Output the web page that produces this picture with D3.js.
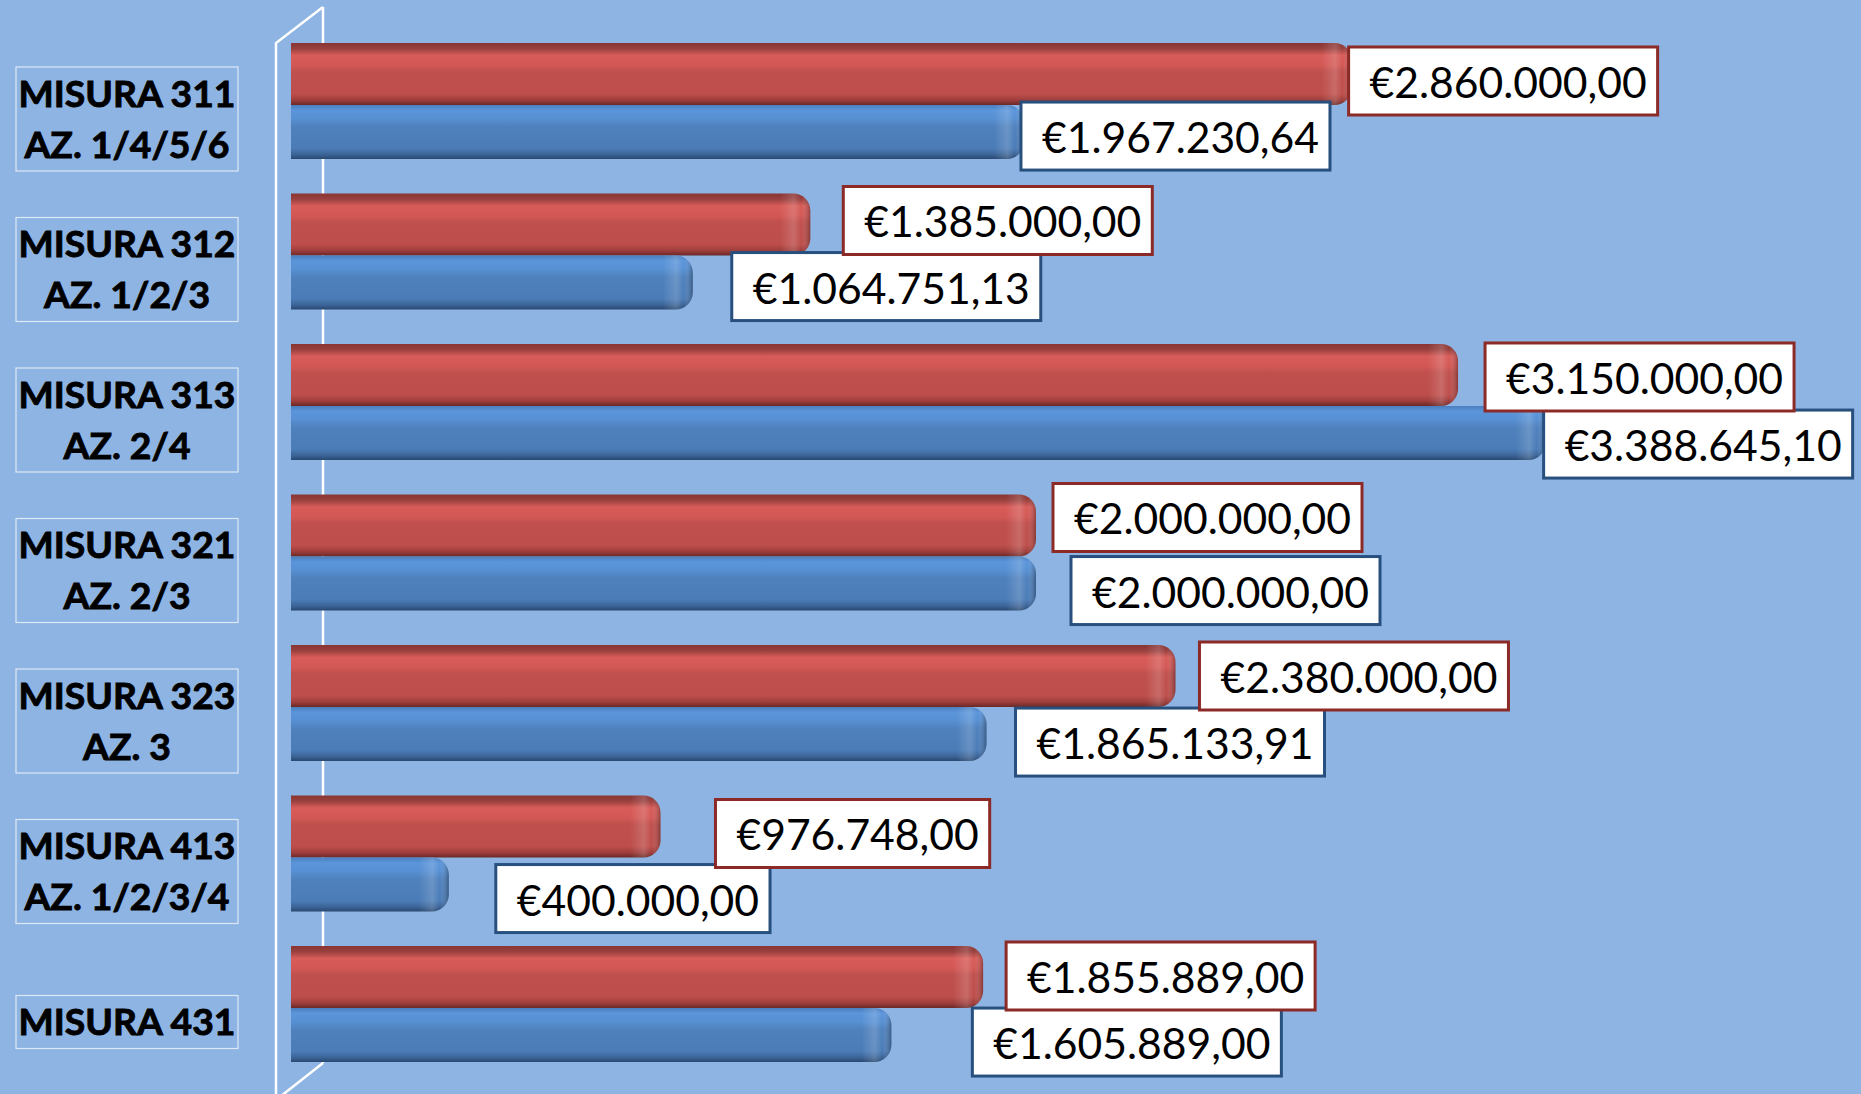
<!DOCTYPE html>
<html lang="it">
<head>
<meta charset="UTF-8">
<title>Misure - importi</title>
<script src="https://d3js.org/d3.v7.min.js"></script>
<style>
  body { margin: 0; background: #8eb4e3; }
  svg { display: block; }
  .cat { font-family: Lato, "Open Sans", sans-serif; font-weight: bold; font-size: 37px; fill: #000; stroke: #000; stroke-width: 0.9px; text-anchor: middle; }
  .val { font-family: Lato, "Open Sans", sans-serif; font-size: 43px; fill: #000; }
</style>
</head>
<body>
<svg width="1861" height="1094"></svg>
<script>
// categories (two-line labels)
const categories = ["MISURA 311", "MISURA 312", "MISURA 313", "MISURA 321", "MISURA 323", "MISURA 413", "MISURA 431"];
const subLabels = ["AZ. 1/4/5/6", "AZ. 1/2/3", "AZ. 2/4", "AZ. 2/3", "AZ. 3", "AZ. 1/2/3/4", ""];

// red series (upper bar of each pair)
const seriesRed = [2860000, 1385000, 3150000, 2000000, 2380000, 976748, 1855889];
// blue series (lower bar of each pair)
const seriesBlue = [1967230.64, 1064751.13, 3388645.10, 2000000, 1865133.91, 400000, 1605889];

// manual nudges of the data labels (layout only, px)
const redNudgeX = [-3, 33, 27, 17, 24, 55, 23];
const redNudgeY = [4, -7, -1, -11, -3, 4, -4];
const blueNudgeX = [-3, 39, -2, 35, 29, 47, 81];
const blueNudgeY = [-3, -3, 4, 0, 1, 7, 0];

const svg = d3.select("svg");
const defs = svg.append("defs");

const itLocale = d3.formatLocale({decimal: ",", thousands: ".", grouping: [3], currency: ["€", ""]});
const fmt = itLocale.format("$,.2f");

const x = d3.scaleLinear().domain([0, 4000000]).range([302, 1770]);
const y = d3.scaleBand().domain(categories).range([25.75, 1079.25]).paddingInner(0.2292).paddingOuter(0.1146);
const barLeft = 291;
const redH = y.bandwidth() * 0.535;
const blueH = y.bandwidth() - redH;

// gradients
function vGrad(id, stops) {
  const g = defs.append("linearGradient").attr("id", id).attr("x1", 0).attr("y1", 0).attr("x2", 0).attr("y2", 1);
  stops.forEach(s => g.append("stop").attr("offset", s[0]).attr("stop-color", s[1]));
}
vGrad("gRed", [[0, "#8a3533"], [0.09, "#98403e"], [0.2, "#d85c59"], [0.36, "#d25855"], [0.46, "#c0504d"], [0.82, "#bd4e4b"], [0.92, "#9e3e3c"], [1, "#6a2826"]]);
vGrad("gBlue", [[0, "#4b7fbe"], [0.1, "#5b95da"], [0.25, "#5790d3"], [0.4, "#4f81bd"], [0.8, "#4b7cb7"], [0.92, "#3b6396"], [1, "#284870"]]);
const cap = defs.append("linearGradient").attr("id", "gCap").attr("x1", 0).attr("y1", 0).attr("x2", 1).attr("y2", 0);
[[0, "#fff", 0], [0.45, "#fff", 0.16], [0.7, "#fff", 0], [1, "#000", 0.3]].forEach(s =>
  cap.append("stop").attr("offset", s[0]).attr("stop-color", s[1]).attr("stop-opacity", s[2]));

// bar outline: flat left end, rounded right end
function barPath(x0, x1, top, h, r) {
  const p = d3.path();
  p.moveTo(x0, top);
  p.lineTo(x1 - r, top);
  p.arcTo(x1, top, x1, top + r, r);
  p.lineTo(x1, top + h - r);
  p.arcTo(x1, top + h, x1 - r, top + h, r);
  p.lineTo(x0, top + h);
  p.closePath();
  return p.toString();
}

// back wall edge (behind the bars)
svg.append("line").attr("x1", 323).attr("y1", 7).attr("x2", 323).attr("y2", 1063)
  .attr("stroke", "#fff").attr("stroke-width", 2.5);

// front floor edge
svg.append("path")
  .attr("d", "M323,7 L276,43 L276,1100 M276,1100 L323,1063")
  .attr("fill", "none").attr("stroke", "#fff").attr("stroke-width", 2.5);

// bars
const rows = categories.map((c, i) => ({
  cat: c, sub: subLabels[i], red: seriesRed[i], blue: seriesBlue[i], i
}));

const bars = svg.append("g");
rows.forEach(d => {
  const top = y(d.cat);
  [[d.red, top, redH, "gRed"], [d.blue, top + redH, blueH, "gBlue"]].forEach(([v, t, h, g]) => {
    const x1 = x(v);
    bars.append("path").attr("d", barPath(barLeft, x1, t, h, 17)).attr("fill", `url(#${g})`);
    bars.append("path").attr("d", barPath(x1 - 30, x1, t, h, 17)).attr("fill", "url(#gCap)");
  });
});

// category labels
const catG = svg.append("g");
rows.forEach(d => {
  const cy = y(d.cat) + y.bandwidth() / 2 + 18;
  const twoLines = d.sub !== "";
  const h = twoLines ? 104 : 53;
  catG.append("rect").attr("x", 16).attr("y", cy - h / 2).attr("width", 222).attr("height", h)
    .attr("fill", "none").attr("stroke", "#dde8f5").attr("stroke-width", 1.2);
  if (twoLines) {
    catG.append("text").attr("class", "cat").attr("x", 127).attr("y", cy - 12.5).text(d.cat);
    catG.append("text").attr("class", "cat").attr("x", 127).attr("y", cy + 38.5).text(d.sub);
  } else {
    catG.append("text").attr("class", "cat").attr("x", 127).attr("y", cy + 13).text(d.cat);
  }
});
// squeeze category text to the reference width
const probe = catG.append("text").attr("class", "cat").text("MISURA 311");
const catK = 217 / probe.node().getComputedTextLength();
probe.remove();
catG.selectAll("text.cat").each(function () {
  const t = d3.select(this);
  t.attr("textLength", this.getComputedTextLength() * catK).attr("lengthAdjust", "spacingAndGlyphs");
});

// data labels
const lblG = svg.append("g");
const vProbe = lblG.append("text").attr("class", "val").text(fmt(2860000));
const valK = 277 / vProbe.node().getComputedTextLength();
vProbe.remove();

function dataLabel(v, boxX, boxY, stroke) {
  const g = lblG.append("g");
  const r = g.append("rect");
  const t = g.append("text").attr("class", "val").attr("x", boxX + 21).attr("y", boxY + 51).text(fmt(v));
  const w = t.node().getComputedTextLength() * valK;
  t.attr("textLength", w).attr("lengthAdjust", "spacingAndGlyphs");
  r.attr("x", boxX).attr("y", boxY).attr("width", w + 32).attr("height", 68)
    .attr("fill", "#fff").attr("stroke", stroke).attr("stroke-width", 3);
}
rows.forEach(d => {
  dataLabel(d.blue, x(d.blue) + blueNudgeX[d.i], y(d.cat) + redH + blueNudgeY[d.i], "#27507f");
});
rows.forEach(d => {
  dataLabel(d.red, x(d.red) + redNudgeX[d.i], y(d.cat) + redNudgeY[d.i], "#8c2a28");
});
</script>
</body>
</html>
